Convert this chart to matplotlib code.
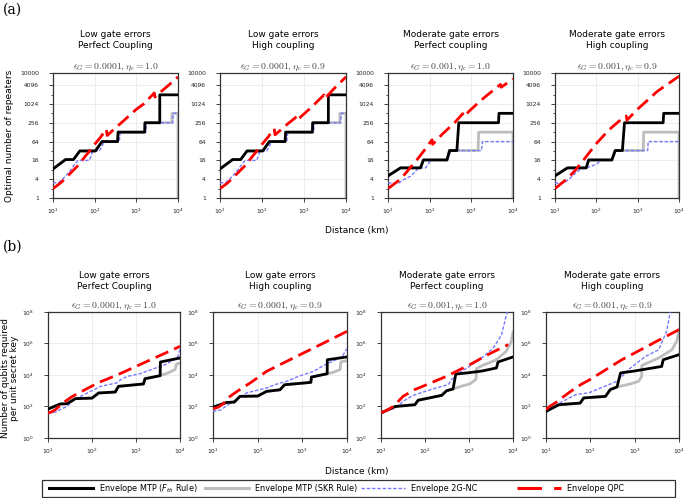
import matplotlib
matplotlib.use('Agg')
import matplotlib.pyplot as plt
from matplotlib.lines import Line2D
from matplotlib.patches import Rectangle
from matplotlib.ticker import NullLocator, FixedLocator, FixedFormatter, NullFormatter

# ---------------- data: (distance km, value) ----------------
# Panel (a): optimal number of repeaters
A1_FTH = [(10, 8.5), (20, 17), (31, 17), (44, 32), (104, 32), (150, 64), (355, 64), (365, 128),
          (1585, 128), (1610, 256), (3650, 256), (3650, 2000), (10000, 2000)]
A1_SKR = [(10, 8.5), (20, 17), (31, 17), (44, 32), (104, 32), (150, 64), (355, 64), (365, 128),
          (1585, 128), (1610, 256), (7100, 256), (7200, 512), (10000, 512), (10000, 1)]
A1_2G = [(10, 3), (14, 3.2), (20, 5), (27, 8), (33, 12), (40, 16), (75, 16), (90, 32), (130, 32),
         (170, 64), (390, 64), (410, 128), (1700, 128), (1760, 256), (7500, 256), (7700, 512), (10000, 512)]
A1_QPC = [(10, 2), (15, 3), (20, 4.3), (30, 7.5), (40, 11), (60, 22), (80, 35), (100, 52), (140, 90),
          (190, 160), (200, 100), (300, 165), (500, 300), (1000, 690), (1500, 1020), (2700, 2300),
          (2800, 1700), (4000, 2600), (6000, 4100), (10000, 7500)]

A2_FTH = [(10, 8.5), (20, 17), (31, 17), (44, 32), (104, 32), (150, 64), (355, 64), (365, 128),
          (1585, 128), (1610, 256), (3800, 256), (3800, 2000), (10000, 2000)]
A2_SKR = [(10, 8.5), (20, 17), (31, 17), (44, 32), (104, 32), (150, 64), (355, 64), (365, 128),
          (1585, 128), (1610, 256), (7100, 256), (7200, 512), (10000, 512), (10000, 1)]
A2_2G = [(10, 3), (14, 3.2), (20, 5), (27, 8), (33, 12), (40, 16), (75, 16), (90, 32), (130, 32),
         (170, 64), (390, 64), (410, 128), (1700, 128), (1760, 256), (7500, 256), (7700, 512), (10000, 512)]
A2_QPC = [(10, 2), (15, 3), (20, 4.3), (30, 7.5), (40, 11), (60, 22), (80, 35), (100, 52), (140, 90),
          (195, 165), (205, 105), (400, 230), (700, 420), (720, 330), (1500, 800), (3000, 2000),
          (3100, 1500), (5000, 3000), (10000, 7500)]

A3_FTH = [(10, 5.1), (20, 9.2), (60, 9.2), (71, 16.5), (260, 16.5), (300, 33), (450, 33), (500, 256),
          (4500, 256), (4600, 512), (10000, 512)]
A3_SKR = [(10, 5.1), (20, 9.2), (60, 9.2), (71, 16.5), (260, 16.5), (300, 33), (1450, 33), (1500, 128),
          (10000, 128), (10000, 1)]
A3_2G = [(10, 3), (18, 3), (25, 4), (35, 5), (45, 7), (55, 9.2), (80, 9.2), (95, 13), (110, 16.5),
         (270, 16.5), (320, 33), (1750, 33), (1850, 64), (10000, 64)]
A3_QPC = [(10, 2), (20, 4), (31, 8), (50, 17), (80, 38), (114, 73), (118, 52), (200, 110), (400, 260),
          (620, 500), (650, 400), (1000, 700), (2000, 1600), (5000, 4300), (5200, 3500), (10000, 6500)]

A4_FTH = [(10, 5.1), (20, 9.2), (57, 9.2), (65, 16.5), (238, 16.5), (286, 33), (427, 33), (480, 256),
          (4130, 256), (4270, 512), (10000, 512)]
A4_SKR = [(10, 5.1), (20, 9.2), (57, 9.2), (65, 16.5), (238, 16.5), (286, 33), (1370, 33), (1400, 128),
          (10000, 128), (10000, 1)]
A4_2G = [(10, 3), (16, 3), (22, 4), (30, 6), (40, 8), (50, 9.2), (70, 10), (100, 12), (137, 16.5),
         (238, 16.5), (286, 33), (1750, 33), (1800, 64), (10000, 64)]
A4_QPC = [(10, 2), (20, 4.2), (31, 7.7), (50, 17), (100, 55), (200, 150), (400, 330), (530, 420),
          (550, 310), (1000, 700), (3000, 2600), (10000, 7900)]

# Panel (b): number of qubits per unit secret key
B1_FTH = [(10, 69), (19, 145), (27, 150), (42, 316), (100, 340), (141, 720), (337, 830), (400, 1900),
          (1480, 2700), (1600, 5800), (3540, 9100), (3580, 67000), (10000, 120000)]
B1_SKR = [(10, 69), (19, 145), (27, 150), (42, 316), (100, 340), (141, 720), (337, 830), (400, 1900),
          (1480, 2700), (1600, 5800), (3540, 9100), (5000, 12500), (7700, 22000), (8400, 50000),
          (10000, 58000)]
B1_2G = [(10, 39), (15, 45), (20, 70), (27, 100), (35, 200), (46, 350), (60, 500), (91, 900), (120, 1300),
         (155, 1900), (250, 2500), (363, 3100), (450, 5000), (620, 8100), (900, 10000), (1230, 12000),
         (2000, 20000), (3550, 35000), (5000, 50000), (7100, 93000), (9000, 150000), (10000, 450000)]
B1_QPC = [(10, 39), (12, 45), (14.7, 63), (19, 120), (24.6, 214), (35, 420), (50, 720), (100, 2000),
          (166, 4000), (300, 7800), (500, 14500), (955, 33000), (2000, 85000), (5000, 270000),
          (10000, 660000)]

B2_FTH = [(10, 90), (20, 180), (30, 190), (40, 440), (100, 460), (158, 910), (316, 1150), (400, 2400),
          (1550, 3400), (1600, 7400), (3600, 12000), (3620, 93000), (10000, 140000)]
B2_SKR = [(10, 90), (20, 180), (30, 190), (40, 440), (100, 460), (158, 910), (316, 1150), (400, 2400),
          (1550, 3400), (1600, 7400), (3600, 12000), (5000, 15000), (7000, 22000), (7300, 70000),
          (10000, 80000)]
B2_2G = [(10, 49), (15, 60), (20, 110), (28, 210), (40, 400), (56, 720), (100, 1100), (158, 1480),
         (250, 2500), (450, 4000), (800, 8000), (1780, 17000), (3000, 40000), (3900, 58000),
         (6000, 100000), (8000, 170000), (10000, 470000)]
B2_QPC = [(10, 70), (13, 90), (17, 150), (24, 440), (40, 1200), (70, 3300), (158, 17000), (400, 63000),
          (1000, 230000), (3000, 1.07e6), (10000, 5.9e6)]

B3_FTH = [(10, 39), (21, 100), (59, 130), (70, 250), (240, 510), (310, 1000), (435, 1300), (500, 11500),
          (1000, 14000), (2000, 18000), (4200, 28000), (4570, 67000), (10000, 140000)]
B3_SKR = [(10, 39), (21, 100), (59, 130), (70, 250), (240, 510), (310, 1000), (435, 1300), (700, 2000),
          (1050, 2700), (1400, 5000), (1450, 6000), (1480, 25000), (2000, 40000), (4200, 93000),
          (7000, 320000), (9000, 1.2e6), (10000, 5e6)]
B3_2G = [(10, 39), (21, 80), (32, 215), (54, 510), (100, 900), (180, 1500), (340, 2500), (400, 5000),
         (520, 10500), (870, 27000), (1740, 93000), (3550, 510000), (5500, 3.6e6), (7100, 6.8e7),
         (7600, 2e8)]
B3_QPC = [(10, 39), (14, 60), (19, 100), (32, 450), (59, 1200), (100, 2200), (300, 8000), (1050, 46000),
          (3000, 230000), (7800, 850000)]

B4_FTH = [(10, 49), (19.5, 130), (59, 165), (71, 350), (220, 440), (280, 1170), (400, 1740), (480, 13500),
          (1000, 18000), (2000, 25000), (4070, 35000), (4400, 93000), (10000, 195000)]
B4_SKR = [(10, 49), (19.5, 130), (59, 165), (71, 350), (220, 440), (280, 1170), (400, 1740), (800, 2700),
          (1230, 4000), (1440, 8000), (1450, 40000), (3470, 120000), (6900, 400000), (9000, 1.5e6),
          (10000, 7.6e6)]
B4_2G = [(10, 49), (19, 150), (39, 440), (50, 600), (91, 720), (257, 2400), (400, 4000), (724, 22000),
         (1740, 150000), (3470, 400000), (5250, 5.9e6), (6300, 8.7e7), (6500, 2e8)]
B4_QPC = [(10, 63), (12, 100), (16, 165), (32, 720), (60, 2400), (100, 5300), (513, 93000), (1000, 250000),
          (3000, 1.3e6), (10000, 7.6e6)]

HEADERS = ["Low gate errors\nPerfect Coupling", "Low gate errors\nHigh coupling",
           "Moderate gate errors\nPerfect coupling", "Moderate gate errors\nHigh coupling"]
PARAMS = [r"$\epsilon_G = 0.0001, \eta_c = 1.0$", r"$\epsilon_G = 0.0001, \eta_c = 0.9$",
          r"$\epsilon_G = 0.001, \eta_c = 1.0$", r"$\epsilon_G = 0.001, \eta_c = 0.9$"]
LABELS = [r"Envelope MTP ($F_{th}$ Rule)", "Envelope MTP (SKR Rule)", "Envelope 2G-NC", "Envelope QPC"]

REP_TICKS = [1, 4, 16, 64, 256, 1024, 4096, 10000]
REP_MINOR = [2, 8, 32, 128, 512, 2048]
QB_TICKS = [1, 1e2, 1e4, 1e6, 1e8]
QB_TICKLABELS = [r"$10^0$", r"$10^2$", r"$10^4$", r"$10^6$", r"$10^8$"]
X_TICKS = [10, 100, 1000, 10000]
X_TICKLABELS = [r"$10^1$", r"$10^2$", r"$10^3$", r"$10^4$"]

TOP = [[A1_SKR, A1_2G, A1_FTH, A1_QPC], [A2_SKR, A2_2G, A2_FTH, A2_QPC],
       [A3_SKR, A3_2G, A3_FTH, A3_QPC], [A4_SKR, A4_2G, A4_FTH, A4_QPC]]
BOT = [[B1_SKR, B1_2G, B1_FTH, B1_QPC], [B2_SKR, B2_2G, B2_FTH, B2_QPC],
       [B3_SKR, B3_2G, B3_FTH, B3_QPC], [B4_SKR, B4_2G, B4_FTH, B4_QPC]]

# ---------------- styles ----------------
STY_SKR = dict(color='#bdbdbd', lw=2.0, zorder=2)
STY_2G = dict(color='#7878ff', lw=1.0, ls=(0, (2.5, 1.3)), zorder=3)
STY_FTH = dict(color='black', lw=2.0, zorder=4)
STY_QPC = dict(color='red', lw=2.0, ls=(0, (5, 2.3)), zorder=5)
STYLES = [STY_SKR, STY_2G, STY_FTH, STY_QPC]

W, H = 685, 498
fig = plt.figure(figsize=(W / 100, H / 100), dpi=100)


def box(l, t, r, b):
    return [l / W, 1 - b / H, (r - l) / W, (b - t) / H]


def style_axes(ax):
    ax.set_xscale('log')
    ax.set_yscale('log')
    ax.set_xlim(10, 10000)
    ax.xaxis.set_major_locator(FixedLocator(X_TICKS))
    ax.xaxis.set_major_formatter(FixedFormatter(X_TICKLABELS))
    ax.xaxis.set_minor_locator(NullLocator())
    ax.tick_params(axis='both', which='major', labelsize=4.3, length=2.8, width=0.6,
                   colors='#222222')
    ax.tick_params(axis='x', which='major', pad=3.8)
    ax.tick_params(axis='y', which='major', pad=7.5)
    ax.tick_params(axis='both', which='minor', length=1.8, width=0.5)
    ax.grid(True, which='major', color='#e6e6e6', lw=0.5, zorder=0)
    for s in ax.spines.values():
        s.set_color('#333333')
        s.set_linewidth(0.9)


def draw(ax, series):
    for pts, st in zip(series, STYLES):
        xs = [p[0] for p in pts]
        ys = [p[1] for p in pts]
        ax.plot(xs, ys, **st)


top_cols = [(53, 178), (220, 346), (388, 513), (555, 679)]
bot_cols = [(48, 180), (213, 347), (381, 513), (546, 679)]

for i, (l, r) in enumerate(top_cols):
    ax = fig.add_axes(box(l, 73, r, 198))
    style_axes(ax)
    draw(ax, TOP[i])
    ax.set_ylim(1, 10000)
    ax.yaxis.set_major_locator(FixedLocator(REP_TICKS))
    ax.yaxis.set_major_formatter(FixedFormatter([str(v) for v in REP_TICKS]))
    ax.yaxis.set_minor_locator(FixedLocator(REP_MINOR))
    ax.yaxis.set_minor_formatter(NullFormatter())
    ax.set_title(PARAMS[i], fontsize=7, color='#444444', pad=3, math_fontfamily='cm')
    fig.text((l + r) / 2 / W, 1 - 40 / H, HEADERS[i], ha='center', va='center', fontsize=6.5,
             linespacing=1.25)

for i, (l, r) in enumerate(bot_cols):
    ax = fig.add_axes(box(l, 312, r, 438))
    style_axes(ax)
    draw(ax, BOT[i])
    ax.set_ylim(1, 1e8)
    ax.yaxis.set_major_locator(FixedLocator(QB_TICKS))
    ax.yaxis.set_major_formatter(FixedFormatter(QB_TICKLABELS))
    ax.yaxis.set_minor_locator(NullLocator())
    ax.set_title(PARAMS[i], fontsize=7, color='#444444', pad=3, math_fontfamily='cm')
    fig.text((l + r) / 2 / W, 1 - 281 / H, HEADERS[i], ha='center', va='center', fontsize=6.5,
             linespacing=1.25)

fig.text(10 / W, 1 - 136 / H, "Optimal number of repeaters", rotation=90, ha='center', va='center',
         fontsize=6.5)
fig.text(10 / W, 1 - 378 / H, "Number of qubits required\nper unit secret key", rotation=90,
         ha='center', va='center', fontsize=6.5, linespacing=1.1)
fig.text(357 / W, 1 - 230 / H, "Distance (km)", ha='center', va='center', fontsize=6.5)
fig.text(357 / W, 1 - 471 / H, "Distance (km)", ha='center', va='center', fontsize=6.5)
fig.text(3 / W, 1 - 10 / H, "(a)", ha='left', va='center', fontsize=10, family='DejaVu Serif')
fig.text(3 / W, 1 - 247 / H, "(b)", ha='left', va='center', fontsize=10, family='DejaVu Serif')

# ---------------- legend: four equal-width columns in one frame ----------------
leg_handles = [
    Line2D([], [], color='black', lw=2.2),
    Line2D([], [], color='#bdbdbd', lw=2.2),
    Line2D([], [], color='#7878ff', lw=1.0, ls=(0, (2.5, 1.3))),
    Line2D([], [], color='red', lw=2.2, ls=(0, (8, 4))),
]
col_x = [49, 205, 361, 517]
for h, lab, x in zip(leg_handles, LABELS, col_x):
    fig.legend([h], [lab], loc='center left', bbox_to_anchor=(x / W, 1 - 488.5 / H),
               frameon=False, borderpad=0, borderaxespad=0, fontsize=5.9,
               handlelength=5.4, handletextpad=0.7)
fig.add_artist(Rectangle((42 / W, 1 - 497 / H), (675 - 42) / W, 17 / H, transform=fig.transFigure,
                         fill=False, ec='#333333', lw=0.9))

fig.savefig('out.png', dpi=100)
